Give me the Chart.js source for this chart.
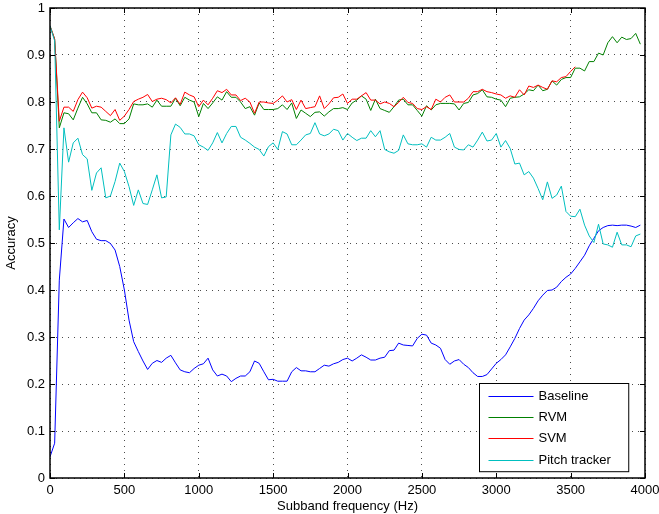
<!DOCTYPE html>
<html lang="en">
<head>
<meta charset="UTF-8">
<title>Accuracy vs subband frequency</title>
<style>
  body { margin: 0; background: #fff; }
  #wrap { width: 659px; height: 514px; }
</style>
</head>
<body>
<div id="wrap"><canvas id="accChart" width="659" height="514"></canvas></div>

<script src="https://cdn.jsdelivr.net/npm/chart.js"></script>
<script>
  // one value per subband, 31.25 Hz wide, starting at 0 Hz
  const bandHz = 31.25;
  const seriesNames = ['Baseline', 'RVM', 'SVM', 'Pitch tracker'];
  const seriesColors = ['#0000ff', '#008000', '#ff0000', '#00bfbf'];
  const xTickStep = 500;
  const yTickStep = 0.1;

  const baseline = [
    0.045, 0.074, 0.421, 0.551, 0.533, 0.543, 0.552, 0.545, 0.548, 0.524,
    0.508, 0.505, 0.505, 0.499, 0.485, 0.450, 0.400, 0.336, 0.290, 0.269,
    0.249, 0.231, 0.244, 0.250, 0.246, 0.255, 0.261, 0.245, 0.230, 0.226,
    0.224, 0.233, 0.240, 0.243, 0.255, 0.230, 0.217, 0.221, 0.217, 0.205,
    0.212, 0.217, 0.217, 0.226, 0.249, 0.244, 0.226, 0.209, 0.210, 0.206,
    0.206, 0.206, 0.226, 0.235, 0.228, 0.228, 0.226, 0.226, 0.233, 0.240,
    0.238, 0.243, 0.246, 0.252, 0.255, 0.249, 0.255, 0.262, 0.257, 0.251,
    0.251, 0.255, 0.257, 0.271, 0.272, 0.287, 0.283, 0.282, 0.281, 0.297,
    0.306, 0.304, 0.287, 0.283, 0.276, 0.252, 0.242, 0.249, 0.252, 0.242,
    0.235, 0.224, 0.216, 0.216, 0.220, 0.232, 0.244, 0.252, 0.262, 0.279,
    0.297, 0.318, 0.336, 0.347, 0.361, 0.377, 0.389, 0.399, 0.400, 0.406,
    0.418, 0.427, 0.434, 0.446, 0.460, 0.474, 0.494, 0.510, 0.526, 0.533,
    0.537, 0.538, 0.537, 0.538, 0.538, 0.536, 0.533, 0.538
  ];
  const rvm = [
    0.962, 0.934, 0.745, 0.777, 0.775, 0.762, 0.787, 0.810, 0.796, 0.777,
    0.777, 0.762, 0.761, 0.757, 0.764, 0.754, 0.754, 0.764, 0.796, 0.794,
    0.794, 0.796, 0.789, 0.804, 0.791, 0.791, 0.791, 0.808, 0.792, 0.810,
    0.804, 0.800, 0.769, 0.797, 0.786, 0.798, 0.811, 0.804, 0.822, 0.810,
    0.810, 0.800, 0.786, 0.790, 0.772, 0.798, 0.784, 0.784, 0.784, 0.786,
    0.794, 0.784, 0.798, 0.765, 0.783, 0.776, 0.769, 0.778, 0.779, 0.770,
    0.779, 0.786, 0.786, 0.788, 0.784, 0.798, 0.804, 0.813, 0.806, 0.782,
    0.806, 0.786, 0.782, 0.778, 0.790, 0.804, 0.806, 0.794, 0.794, 0.782,
    0.770, 0.792, 0.783, 0.794, 0.797, 0.797, 0.797, 0.796, 0.783, 0.797,
    0.799, 0.815, 0.818, 0.826, 0.811, 0.810, 0.806, 0.804, 0.790, 0.808,
    0.810, 0.811, 0.817, 0.826, 0.824, 0.836, 0.824, 0.827, 0.845, 0.836,
    0.848, 0.852, 0.852, 0.872, 0.872, 0.866, 0.886, 0.886, 0.904, 0.900,
    0.926, 0.939, 0.926, 0.938, 0.933, 0.935, 0.946, 0.923
  ];
  const svm = [
    0.962, 0.934, 0.759, 0.789, 0.789, 0.780, 0.805, 0.821, 0.809, 0.787,
    0.791, 0.789, 0.780, 0.771, 0.784, 0.761, 0.770, 0.784, 0.801, 0.806,
    0.810, 0.816, 0.801, 0.806, 0.808, 0.805, 0.798, 0.809, 0.795, 0.821,
    0.815, 0.811, 0.790, 0.804, 0.794, 0.808, 0.824, 0.820, 0.827, 0.815,
    0.815, 0.803, 0.808, 0.800, 0.776, 0.800, 0.800, 0.798, 0.797, 0.804,
    0.813, 0.800, 0.805, 0.784, 0.804, 0.786, 0.788, 0.790, 0.813, 0.786,
    0.796, 0.809, 0.810, 0.817, 0.797, 0.806, 0.806, 0.813, 0.820, 0.804,
    0.804, 0.796, 0.800, 0.797, 0.790, 0.799, 0.810, 0.799, 0.797, 0.786,
    0.784, 0.790, 0.784, 0.806, 0.800, 0.810, 0.815, 0.800, 0.800, 0.800,
    0.808, 0.822, 0.822, 0.827, 0.822, 0.820, 0.817, 0.815, 0.808, 0.813,
    0.810, 0.826, 0.815, 0.834, 0.831, 0.836, 0.831, 0.827, 0.845, 0.843,
    0.852, 0.854, 0.865, 0.875
  ];
  const pitch = [
    0.962, 0.930, 0.528, 0.745, 0.672, 0.713, 0.723, 0.688, 0.679, 0.612,
    0.649, 0.660, 0.596, 0.600, 0.631, 0.670, 0.652, 0.620, 0.580, 0.613,
    0.584, 0.582, 0.613, 0.645, 0.596, 0.598, 0.730, 0.753, 0.746, 0.732,
    0.732, 0.728, 0.709, 0.704, 0.697, 0.713, 0.735, 0.713, 0.733, 0.748,
    0.748, 0.725, 0.719, 0.712, 0.704, 0.699, 0.685, 0.705, 0.713, 0.699,
    0.737, 0.732, 0.709, 0.709, 0.719, 0.730, 0.733, 0.756, 0.732, 0.728,
    0.732, 0.742, 0.739, 0.719, 0.733, 0.725, 0.718, 0.723, 0.723, 0.739,
    0.726, 0.739, 0.699, 0.694, 0.691, 0.697, 0.730, 0.711, 0.709, 0.709,
    0.711, 0.704, 0.725, 0.719, 0.719, 0.725, 0.733, 0.704, 0.699, 0.698,
    0.709, 0.704, 0.719, 0.736, 0.717, 0.719, 0.733, 0.704, 0.718, 0.701,
    0.668, 0.670, 0.645, 0.652, 0.638, 0.616, 0.592, 0.630, 0.595, 0.602,
    0.621, 0.567, 0.557, 0.556, 0.572, 0.538, 0.515, 0.501, 0.540, 0.498,
    0.496, 0.491, 0.523, 0.496, 0.496, 0.492, 0.515, 0.519
  ];

  const FONT = { family: '"Liberation Sans", Arial, sans-serif', size: 13 };
  const allSeries = [baseline, rvm, svm, pitch];

  function toPoints(vals) {
    return vals.map((v, i) => ({ x: i * bandHz, y: v }));
  }

  // MATLAB-style box, inward ticks on all four sides and a legend inside the axes
  const matlabFrame = {
    id: 'matlabFrame',
    afterDatasetsDraw(chart) {
      const { ctx, chartArea: a, scales } = chart;
      ctx.save();

      // legend
      ctx.font = FONT.size + 'px ' + FONT.family;
      const textW = Math.max(...seriesNames.map(n => ctx.measureText(n).width));
      const rowH = 21.4;
      const boxW = 9 + 45 + 5 + textW + 18;
      const boxH = 12 + rowH * (seriesNames.length - 1) + 12;
      const bx = Math.round(a.right - 17 - boxW) + 0.5;
      const by = Math.round(a.bottom - 7 - boxH) + 0.5;
      ctx.fillStyle = '#fff';
      ctx.fillRect(bx, by, boxW, boxH);
      ctx.lineWidth = 1;
      ctx.strokeStyle = '#000';
      ctx.strokeRect(bx, by, boxW, boxH);
      ctx.textBaseline = 'middle';
      seriesNames.forEach((name, i) => {
        const cy = Math.round(by + 12 + i * rowH) + 0.5;
        ctx.strokeStyle = seriesColors[i];
        ctx.beginPath();
        ctx.moveTo(bx + 9, cy);
        ctx.lineTo(bx + 54, cy);
        ctx.stroke();
        ctx.fillStyle = '#000';
        ctx.fillText(name, bx + 59, cy);
      });

      // tick marks
      ctx.strokeStyle = '#000';
      ctx.lineWidth = 1;
      ctx.beginPath();
      scales.x.ticks.forEach(t => {
        const px = Math.round(scales.x.getPixelForValue(t.value)) + 0.5;
        ctx.moveTo(px, a.bottom); ctx.lineTo(px, a.bottom - 5);
        ctx.moveTo(px, a.top); ctx.lineTo(px, a.top + 5);
      });
      scales.y.ticks.forEach(t => {
        const py = Math.round(scales.y.getPixelForValue(t.value)) + 0.5;
        ctx.moveTo(a.left, py); ctx.lineTo(a.left + 5, py);
        ctx.moveTo(a.right, py); ctx.lineTo(a.right - 5, py);
      });
      ctx.stroke();

      // axes box
      ctx.lineWidth = 1.5;
      ctx.strokeRect(a.left, a.top, a.right - a.left, a.bottom - a.top);
      ctx.restore();
    }
  };

  const datasets = allSeries.map((vals, i) => ({
    label: seriesNames[i],
    data: toPoints(vals),
    borderColor: seriesColors[i],
    borderWidth: 1,
    pointRadius: 0,
    tension: 0,
    fill: false,
    order: allSeries.length - i   // later series drawn on top, like MATLAB
  }));

  new Chart(document.getElementById('accChart'), {
    type: 'line',
    data: { datasets },
    plugins: [matlabFrame],
    options: {
      responsive: false,
      animation: false,
      layout: { padding: { top: 8, right: 14, left: 0, bottom: 0 } },
      plugins: {
        legend: { display: false },
        tooltip: { enabled: false }
      },
      scales: {
        x: {
          type: 'linear',
          min: 0,
          max: 4000,
          afterFit(scale) {
            scale.height = 36;
            scale.paddingLeft = 0;
            scale.paddingRight = 0;
          },
          ticks: {
            stepSize: xTickStep,
            padding: 5,
            maxRotation: 0,
            color: '#000',
            font: FONT,
            callback: v => String(v)
          },
          grid: { color: 'rgba(0,0,0,0.7)', lineWidth: 1, drawTicks: false },
          border: { display: false, dash: [1, 5] },
          title: {
            display: true,
            text: 'Subband frequency (Hz)',
            color: '#000',
            font: FONT,
            padding: { top: 0, bottom: 0 }
          }
        },
        y: {
          min: 0,
          max: 1,
          afterFit(scale) {
            scale.width = 50;
            scale.paddingTop = 0;
            scale.paddingBottom = 0;
          },
          ticks: {
            stepSize: yTickStep,
            padding: 5,
            color: '#000',
            font: FONT,
            callback: v => String(+v.toFixed(1))
          },
          grid: { color: 'rgba(0,0,0,0.7)', lineWidth: 1, drawTicks: false },
          border: { display: false, dash: [1, 5] },
          title: {
            display: true,
            text: 'Accuracy',
            color: '#000',
            font: FONT,
            padding: { top: 4, bottom: 0 }
          }
        }
      }
    }
  });
</script>
</body>
</html>
